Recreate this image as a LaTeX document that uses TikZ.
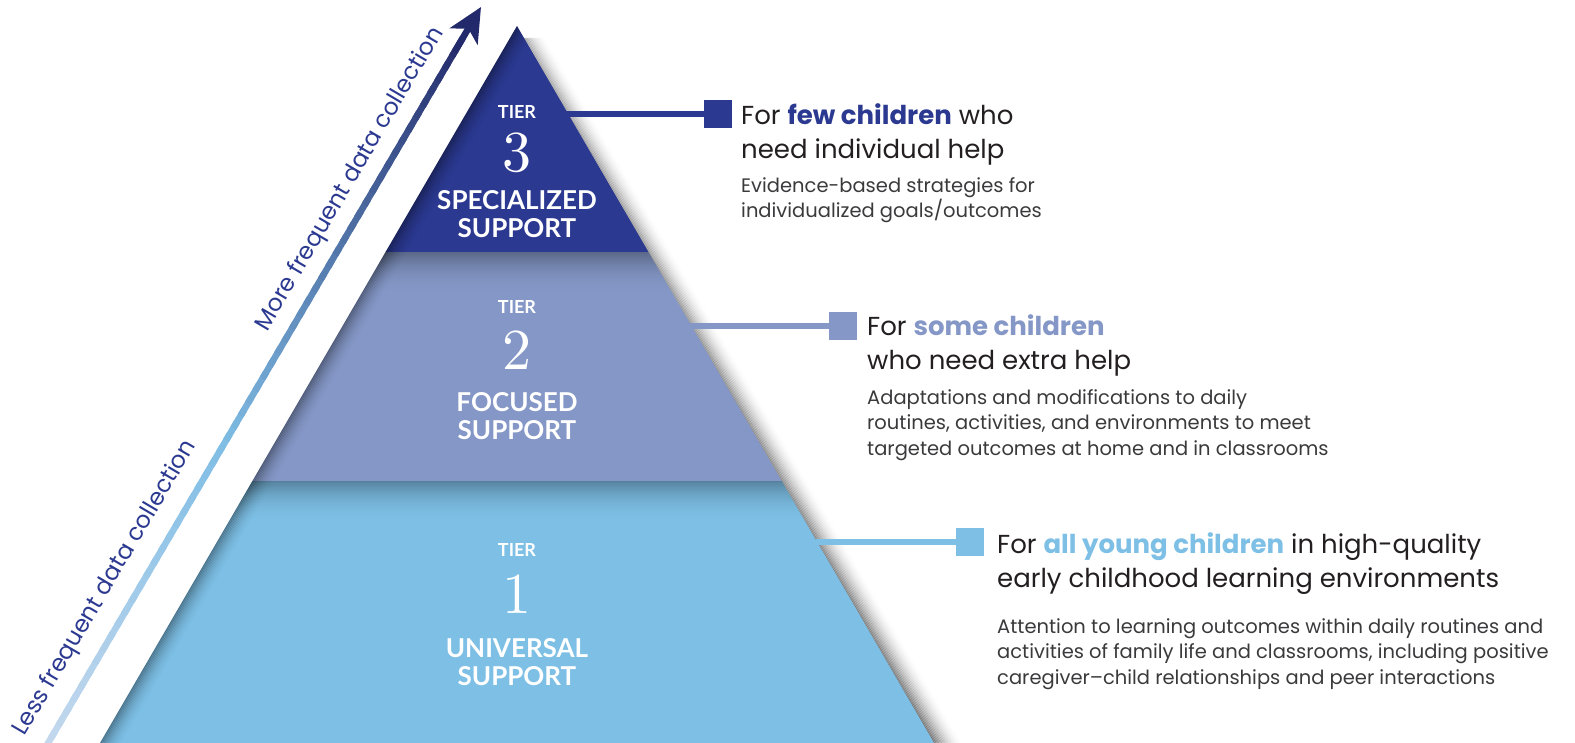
\documentclass[tikz,border=0pt]{standalone}
\usepackage{fontspec}
\setmainfont{Poppins}
\newfontfamily\labelfont{Lato}
\newfontfamily\numfont{lmroman10-regular.otf}
\usepackage{xcolor}
\usetikzlibrary{calc,arrows.meta,positioning}

\definecolor{tierthree}{HTML}{2B3990}
\definecolor{tiertwo}{HTML}{8497C6}
\definecolor{tierone}{HTML}{7DBFE5}
\definecolor{arrowpale}{HTML}{C4D8ED}
\definecolor{arrowmid}{HTML}{80BEE5}
\definecolor{arrownavy}{HTML}{232A6B}
\definecolor{headtext}{HTML}{231F20}
\definecolor{bodytext}{HTML}{3A3A3C}

\tikzset{
  tierword/.style={text=white, font=\labelfont\bfseries\fontsize{18}{20}\selectfont, inner sep=0pt},
  tiernum/.style={text=white, font=\numfont\fontsize{58}{60}\selectfont, inner sep=0pt},
  tierlabel/.style={text=white, font=\labelfont\bfseries\fontsize{26}{28}\selectfont, align=center, inner sep=0pt},
  tab/.style={rectangle, fill=#1, minimum size=28pt, inner sep=0pt},
  link/.style={draw=#1, line width=6pt},
  heading/.style={text=headtext, font=\fontsize{26}{34}\selectfont, align=left, inner sep=0pt, anchor=west},
  body/.style={text=bodytext, font=\fontsize{19.5}{25.5}\selectfont, align=left, inner sep=0pt, anchor=west},
  sidenote/.style={text=tierthree, font=\fontsize{23.5}{25}\selectfont, inner sep=0pt},
}

\begin{document}
\begin{tikzpicture}[x=1pt,y=-1pt]
    \useasboundingbox (0,0) rectangle (1575,743);

    % Corners of the pyramid
    \coordinate (apex) at (517,26);
    \coordinate (l3) at (385.6,252);
    \coordinate (r3) at (648.4,252);
    \coordinate (l2) at (252.4,481);
    \coordinate (r2) at (781.6,481);
    \coordinate (l1) at (100,743);
    \coordinate (r1) at (934,743);

    % Shadow right of the pyramid
    \foreach \i [evaluate=\i as \op using 0.42*(1-\i/20)^2] in {0,...,19}
        \draw[black, opacity=\op, line width=1.6pt] ($(apex)+(1.5*\i,12)$) -- ($(r1)+(1.5*\i,0)$);

    % Tiers
    \fill[tierone] (l2) -- (r2) -- (r1) -- (l1) -- cycle;
    \fill[tiertwo] (l3) -- (r3) -- (r2) -- (l2) -- cycle;
    \fill[tierthree] (apex) -- (r3) -- (l3) -- cycle;

    % Shading under the tier edges
    \begin{scope}
        \clip (l3) -- (r3) -- (r1) -- (l1) -- cycle;
        \foreach \i [evaluate=\i as \op using 0.3*(1-\i/20)^2] in {0,...,19} {
            \draw[black, opacity=\op, line width=2pt] (200,253+2*\i) -- (800,253+2*\i);
            \draw[black, opacity=\op, line width=2pt] (200,482+2*\i) -- (950,482+2*\i);
        }
    \end{scope}
    \begin{scope}
        \clip (apex) -- (r1) -- (l1) -- cycle;
        \foreach \i [evaluate=\i as \op using 0.3*(1-\i/16)^2] in {0,...,15}
            \draw[black, opacity=\op, line width=1.6pt] ($(apex)+(1.5*\i,0)$) -- ($(l1)+(1.5*\i,0)$);
    \end{scope}

    % Tier 3
    \node[tierword] (tier3) at (517,112) {TIER};
    \node[tiernum] (num3) at (517,153) {3};
    \node[tierlabel] (lab3) at (517,214) {SPECIALIZED\\SUPPORT};

    % Tier 2
    \node[tierword] (tier2) at (517,307) {TIER};
    \node[tiernum] (num2) at (517,350) {2};
    \node[tierlabel] (lab2) at (517,416) {FOCUSED\\SUPPORT};

    % Tier 1
    \node[tierword] (tier1) at (517,550) {TIER};
    \node[tiernum] (num1) at (517,594) {1};
    \node[tierlabel] (lab1) at (517,662) {UNIVERSAL\\SUPPORT};

    % Arrow
    \coordinate (abot) at (44,750);
    \coordinate (atop) at (481,7);
    \foreach \i [evaluate=\i as \a using \i/60, evaluate=\i as \b using (\i+1.5)/60,
                 evaluate=\i as \p using \i/24*100] in {0,...,23}
        \draw[arrowmid!\p!arrowpale, line width=6.5pt] ($(abot)!\a!(atop)$) -- ($(abot)!\b!(atop)$);
    \foreach \i [evaluate=\i as \a using \i/60, evaluate=\i as \b using (\i+1.5)/60,
                 evaluate=\i as \p using (\i-24)/33*100] in {24,...,56}
        \draw[arrownavy!\p!arrowmid, line width=6.5pt] ($(abot)!\a!(atop)$) -- ($(abot)!\b!(atop)$);
    \draw[arrownavy, line width=6.5pt, -{Stealth[length=34pt, width=32pt, inset=9pt]}]
        ($(abot)!0.94!(atop)$) -- (atop);
    \path (abot) -- (atop)
        node[sidenote, pos=0.751, sloped, above=13pt] (morefreq) {More frequent data collection}
        node[sidenote, pos=0.198, sloped, above=17pt] (lessfreq) {Less frequent data collection};

    % Tier 3 text
    \node[tab=tierthree] (sq3) at (718,114) {};
    \coordinate (e3) at (566,114);
    \draw[link=tierthree] (e3) -- (sq3);
    \node[heading] (head3) at (741,134) {For {\bfseries\color{tierthree}few children} who\\need individual help};
    \node[body] (text3) at (741,200) {Evidence-based strategies for\\individualized goals/outcomes};

    % Tier 2 text
    \node[tab=tiertwo] (sq2) at (843,326) {};
    \coordinate (e2) at (690,326);
    \draw[link=tiertwo] (e2) -- (sq2);
    \node[heading] (head2) at (867,345) {For {\bfseries\color{tiertwo}some children}\\who need extra help};
    \node[body] (text2) at (867,425) {Adaptations and modifications to daily\\routines, activities, and environments to meet\\targeted outcomes at home and in classrooms};

    % Tier 1 text
    \node[tab=tierone] (sq1) at (970,542) {};
    \coordinate (e1) at (816,542);
    \draw[link=tierone] (e1) -- (sq1);
    \node[heading] (head1) at (997,564) {For {\bfseries\color{tierone}all young children} in high-quality\\early childhood learning environments};
    \node[body] (text1) at (997,654) {Attention to learning outcomes within daily routines and\\activities of family life and classrooms, including positive\\caregiver--child relationships and peer interactions};
\end{tikzpicture}
\end{document}
